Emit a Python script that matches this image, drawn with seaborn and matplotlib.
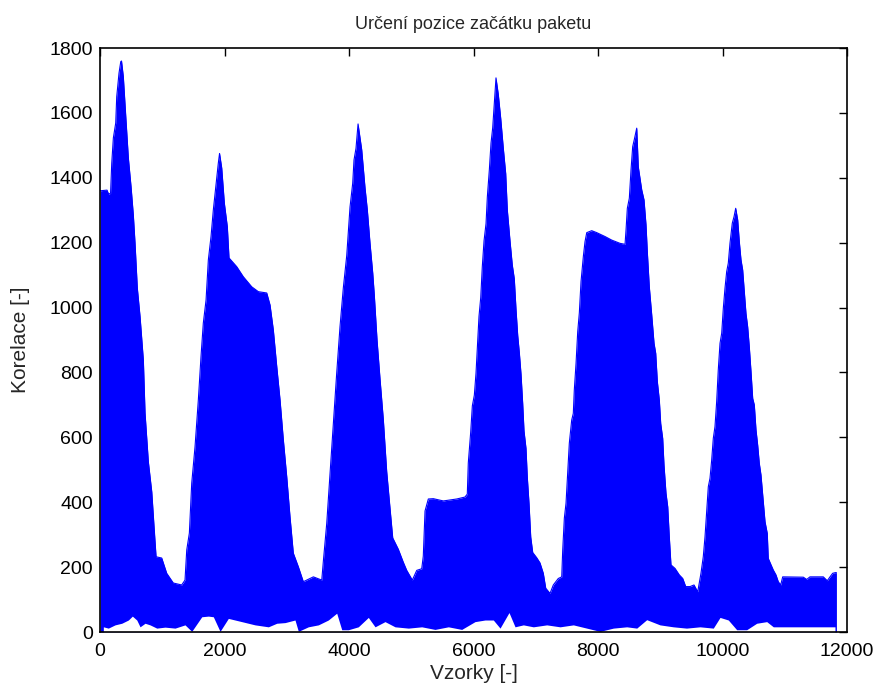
import numpy as np
import pandas as pd
import matplotlib
matplotlib.use("Agg")
import matplotlib.pyplot as plt
import seaborn as sns

# horni obalka korelace (vzorek, hodnota)
upper_x = [3, 112, 137, 169, 188, 214, 252, 268, 305, 333, 345, 374, 413, 455, 498, 535, 562, 599,
           643, 696, 723, 776, 831, 867, 900, 991, 1071, 1177, 1312, 1365,
           1393, 1435, 1473, 1526, 1579, 1622, 1659, 1703, 1740, 1783, 1820, 1863, 1900, 1920,
           1955, 1997, 2045, 2072, 2196, 2302, 2437, 2543, 2678, 2731, 2784, 2839, 2892, 2945,
           2999, 3052, 3105, 3186, 3266, 3427, 3562,
           3587, 3642, 3695, 3748, 3802, 3855, 3908, 3963, 4016, 4059, 4080, 4112, 4145,
           4204, 4257, 4294, 4337, 4381, 4406, 4450, 4498, 4551, 4605, 4659, 4702, 4792, 4872,
           4927, 5017, 5088, 5168,
           5193, 5221, 5274, 5354, 5515, 5730, 5863, 5900, 5916, 5955, 5981, 6013, 6040, 6061,
           6088, 6116, 6141, 6169, 6201, 6222, 6254, 6281, 6308, 6334, 6361,
           6398, 6437, 6479, 6517, 6543, 6586, 6623, 6655, 6683, 6710, 6736, 6763, 6790, 6811,
           6843, 6864, 6892, 6919, 6951, 7015, 7068, 7121, 7160, 7229, 7282, 7362, 7417,
           7433, 7459, 7486, 7513, 7539, 7577, 7603, 7619, 7647, 7674, 7700, 7727, 7764, 7791,
           7819, 7899, 7979, 8112, 8220, 8353, 8434, 8450, 8471, 8503, 8530, 8557, 8583, 8622,
           8647, 8702, 8739, 8771, 8792, 8824, 8863, 8900, 8927, 8953, 8985, 9007, 9039, 9060,
           9092, 9120, 9145, 9172, 9237, 9306, 9361, 9409, 9478, 9542, 9602, 9654,
           9691, 9719, 9746, 9772, 9799, 9826, 9852, 9879, 9906, 9932, 9960, 9987, 10013, 10040,
           10067, 10093, 10120, 10157, 10185, 10212,
           10244, 10270, 10297, 10324, 10350, 10377, 10404, 10430, 10458, 10485, 10511, 10538,
           10565, 10591, 10618, 10646, 10683, 10719, 10735, 10779, 10816, 10859, 10896, 10935,
           10967, 11298, 11352, 11405, 11619, 11683, 11727, 11770, 11812, 11830]
upper_y = [1360, 1362, 1350, 1352, 1445, 1523, 1569, 1650, 1723, 1758, 1760, 1712, 1589, 1461, 1373, 1285, 1199, 1060,
           972, 838, 675, 525, 432, 325, 232, 228, 181, 151, 145, 160,
           253, 305, 459, 571, 715, 849, 952, 1023, 1147, 1219, 1301, 1378, 1445, 1475,
           1430, 1322, 1249, 1153, 1126, 1095, 1064, 1049, 1045, 1008, 931, 818, 715, 592,
           479, 355, 243, 201, 155, 170, 160,
           217, 335, 490, 644, 798, 941, 1060, 1160, 1310, 1383, 1455, 1491, 1566,
           1486, 1369, 1301, 1199, 1106, 1039, 900, 780, 655, 495, 380, 290, 255, 215,
           190, 160, 190, 195,
           234, 373, 410, 411, 404, 410, 416, 425, 521, 617, 697, 730, 798, 877,
           973, 1031, 1126, 1206, 1259, 1341, 1424, 1507, 1554, 1631, 1708,
           1657, 1583, 1490, 1413, 1301, 1206, 1131, 1089, 993, 914, 861, 795, 704, 620,
           566, 477, 395, 293, 245, 229, 213, 181, 135, 119, 145, 165, 170,
           253, 351, 397, 490, 582, 653, 674, 746, 828, 926, 984, 1080, 1157, 1203,
           1231, 1237, 1231, 1219, 1208, 1198, 1195, 1239, 1306, 1337, 1424, 1496, 1518, 1553,
           1434, 1363, 1332, 1255, 1172, 1064, 977, 890, 859, 772, 715, 643, 597, 515,
           428, 386, 294, 207, 196, 176, 165, 140, 140, 145, 124, 181,
           232, 294, 371, 448, 474, 530, 597, 633, 710, 808, 890, 921, 998, 1060,
           1111, 1137, 1198, 1260, 1280, 1306,
           1270, 1203, 1147, 1116, 1049, 982, 941, 880, 802, 720, 700, 623,
           576, 520, 484, 422, 340, 304, 227, 207, 191, 176, 155, 145,
           170, 169, 162, 170, 170, 158, 170, 181, 183, 183]

# dolni obalka (minima oscilaci)
lower_x = [53, 133, 241, 349, 455, 519, 590, 643, 723, 803, 911, 1044, 1205, 1365, 1473, 1634, 1740,
           1820, 1928, 2061, 2276, 2490, 2704, 2839, 2972, 3132, 3186, 3346, 3507, 3667, 3802,
           3883, 3989, 4149, 4310, 4418, 4578, 4739, 4953, 5168, 5381, 5595, 5810, 6024, 6185,
           6318, 6426, 6570, 6667, 6800, 6961, 7176, 7390, 7603, 7818, 8032, 8246, 8461, 8622,
           8782, 8995, 9209, 9421, 9638, 9852, 9960, 10093, 10228, 10388, 10549, 10710, 10816,
           11030, 11245, 11459, 11619, 11807]
lower_y = [16, 12, 22, 27, 37, 49, 37, 16, 27, 22, 12, 15, 12, 22, 2, 47, 49,
           47, 2, 42, 32, 22, 16, 27, 29, 37, 2, 16, 22, 37, 58,
           7, 7, 16, 45, 16, 32, 16, 12, 16, 8, 16, 8, 32, 37,
           37, 12, 60, 16, 22, 16, 22, 16, 22, 12, 2, 12, 16, 12,
           38, 22, 16, 12, 16, 12, 45, 37, 7, 7, 27, 32, 16,
           16, 16, 16, 16, 16]

df_up = pd.DataFrame({"vzorek": upper_x, "korelace": upper_y})
df_low = pd.DataFrame({"vzorek": lower_x, "korelace": lower_y})

sns.set_style("white")
plt.rcParams['font.family'] = ['Liberation Sans', 'DejaVu Sans']

fig = plt.figure(figsize=(8.76, 6.93), dpi=100)
ax = fig.add_axes([0.1142, 0.0880, 0.8527, 0.8427])

ax.fill_between(df_up["vzorek"], 0, df_up["korelace"], color="#0000ff", lw=0)
sns.lineplot(data=df_up, x="vzorek", y="korelace", color="#0000ff", lw=0.8, ax=ax)
ax.fill_between(df_low["vzorek"], 0, df_low["korelace"], color="white", lw=0)

ax.set_xlim(0, 12000)
ax.set_ylim(0, 1800)
ax.set_xticks(range(0, 12001, 2000))
ax.set_yticks(range(0, 1801, 200))
ax.tick_params(direction="in", top=True, right=True, length=6, width=1,
               labelsize=14, colors="black", pad=5)
ax.tick_params(axis="x", pad=8)
for s in ax.spines.values():
    s.set_color("black")
    s.set_linewidth(1.2)

ax.set_title("Určení pozice začátku paketu", fontsize=13, pad=14)
ax.set_xlabel("Vzorky [-]", fontsize=15, labelpad=3)
ax.set_ylabel("Korelace [-]", fontsize=15, labelpad=14)

fig.savefig("out.png", dpi=100)
